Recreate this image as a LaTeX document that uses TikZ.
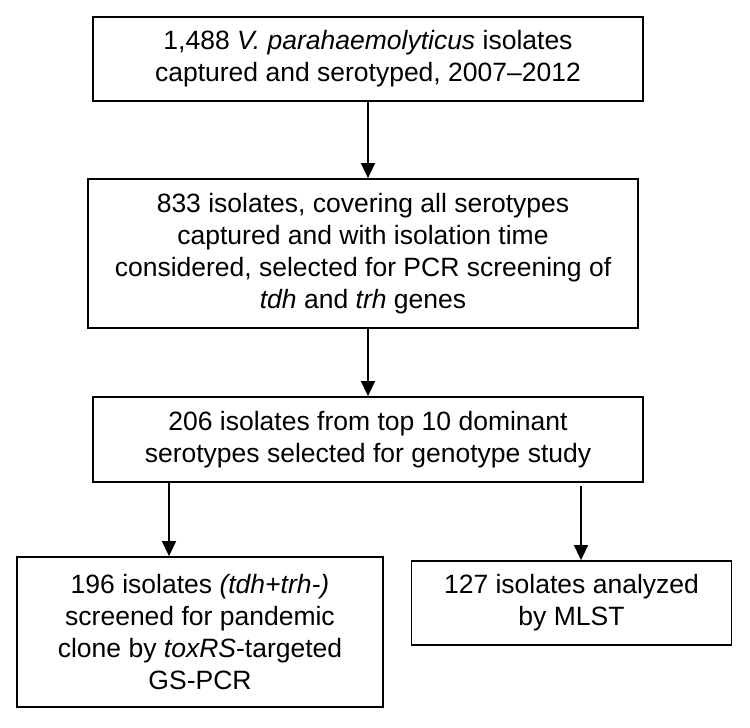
\documentclass[tikz,border=0pt]{standalone}
\usepackage{fontspec}
\setmainfont{Liberation Sans}
\usetikzlibrary{arrows.meta}
\begin{document}
\begin{tikzpicture}[x=1pt,y=-1pt,
  box/.style={draw, line width=1.8pt, align=center, inner sep=0pt,
    font=\fontsize{26.5}{32}\selectfont},
  arr/.style={line width=1.5pt, -{Triangle[width=14pt,length=15pt]}}]
\useasboundingbox (0,0) rectangle (750,728);
\node[box, minimum width=550pt, minimum height=84pt] (b1) at (368,59)
  {1,488 \textit{V. parahaemolyticus} isolates\\captured and serotyped, 2007–2012};
\node[box, minimum width=550pt, minimum height=149pt] (b2) at (363,253.5)
  {833 isolates, covering all serotypes\\captured and with isolation time\\considered, selected for PCR screening of\\\textit{tdh} and \textit{trh} genes};
\node[box, minimum width=550pt, minimum height=85pt] (b3) at (368,439.5)
  {206 isolates from top 10 dominant\\serotypes selected for genotype study};
\node[box, minimum width=366pt, minimum height=150pt] (b4) at (200,632)
  {196 isolates \textit{(tdh+trh-)}\\screened for pandemic\\clone by \textit{toxRS}-targeted\\GS-PCR};
\node[box, minimum width=320pt, minimum height=84pt] (b5) at (571.5,603)
  {127 isolates analyzed\\by MLST};
\coordinate (c1) at (169,0);
\coordinate (c2) at (581,486);
\draw[arr] (b1.south) -- (b1.south |- b2.north);
\draw[arr] (b2.south -| b3.north) -- (b3.north);
\draw[arr] (b3.south -| c1) -- (b4.north -| c1);
\draw[arr] (c2) -- (b5.north -| c2);
\end{tikzpicture}
\end{document}
